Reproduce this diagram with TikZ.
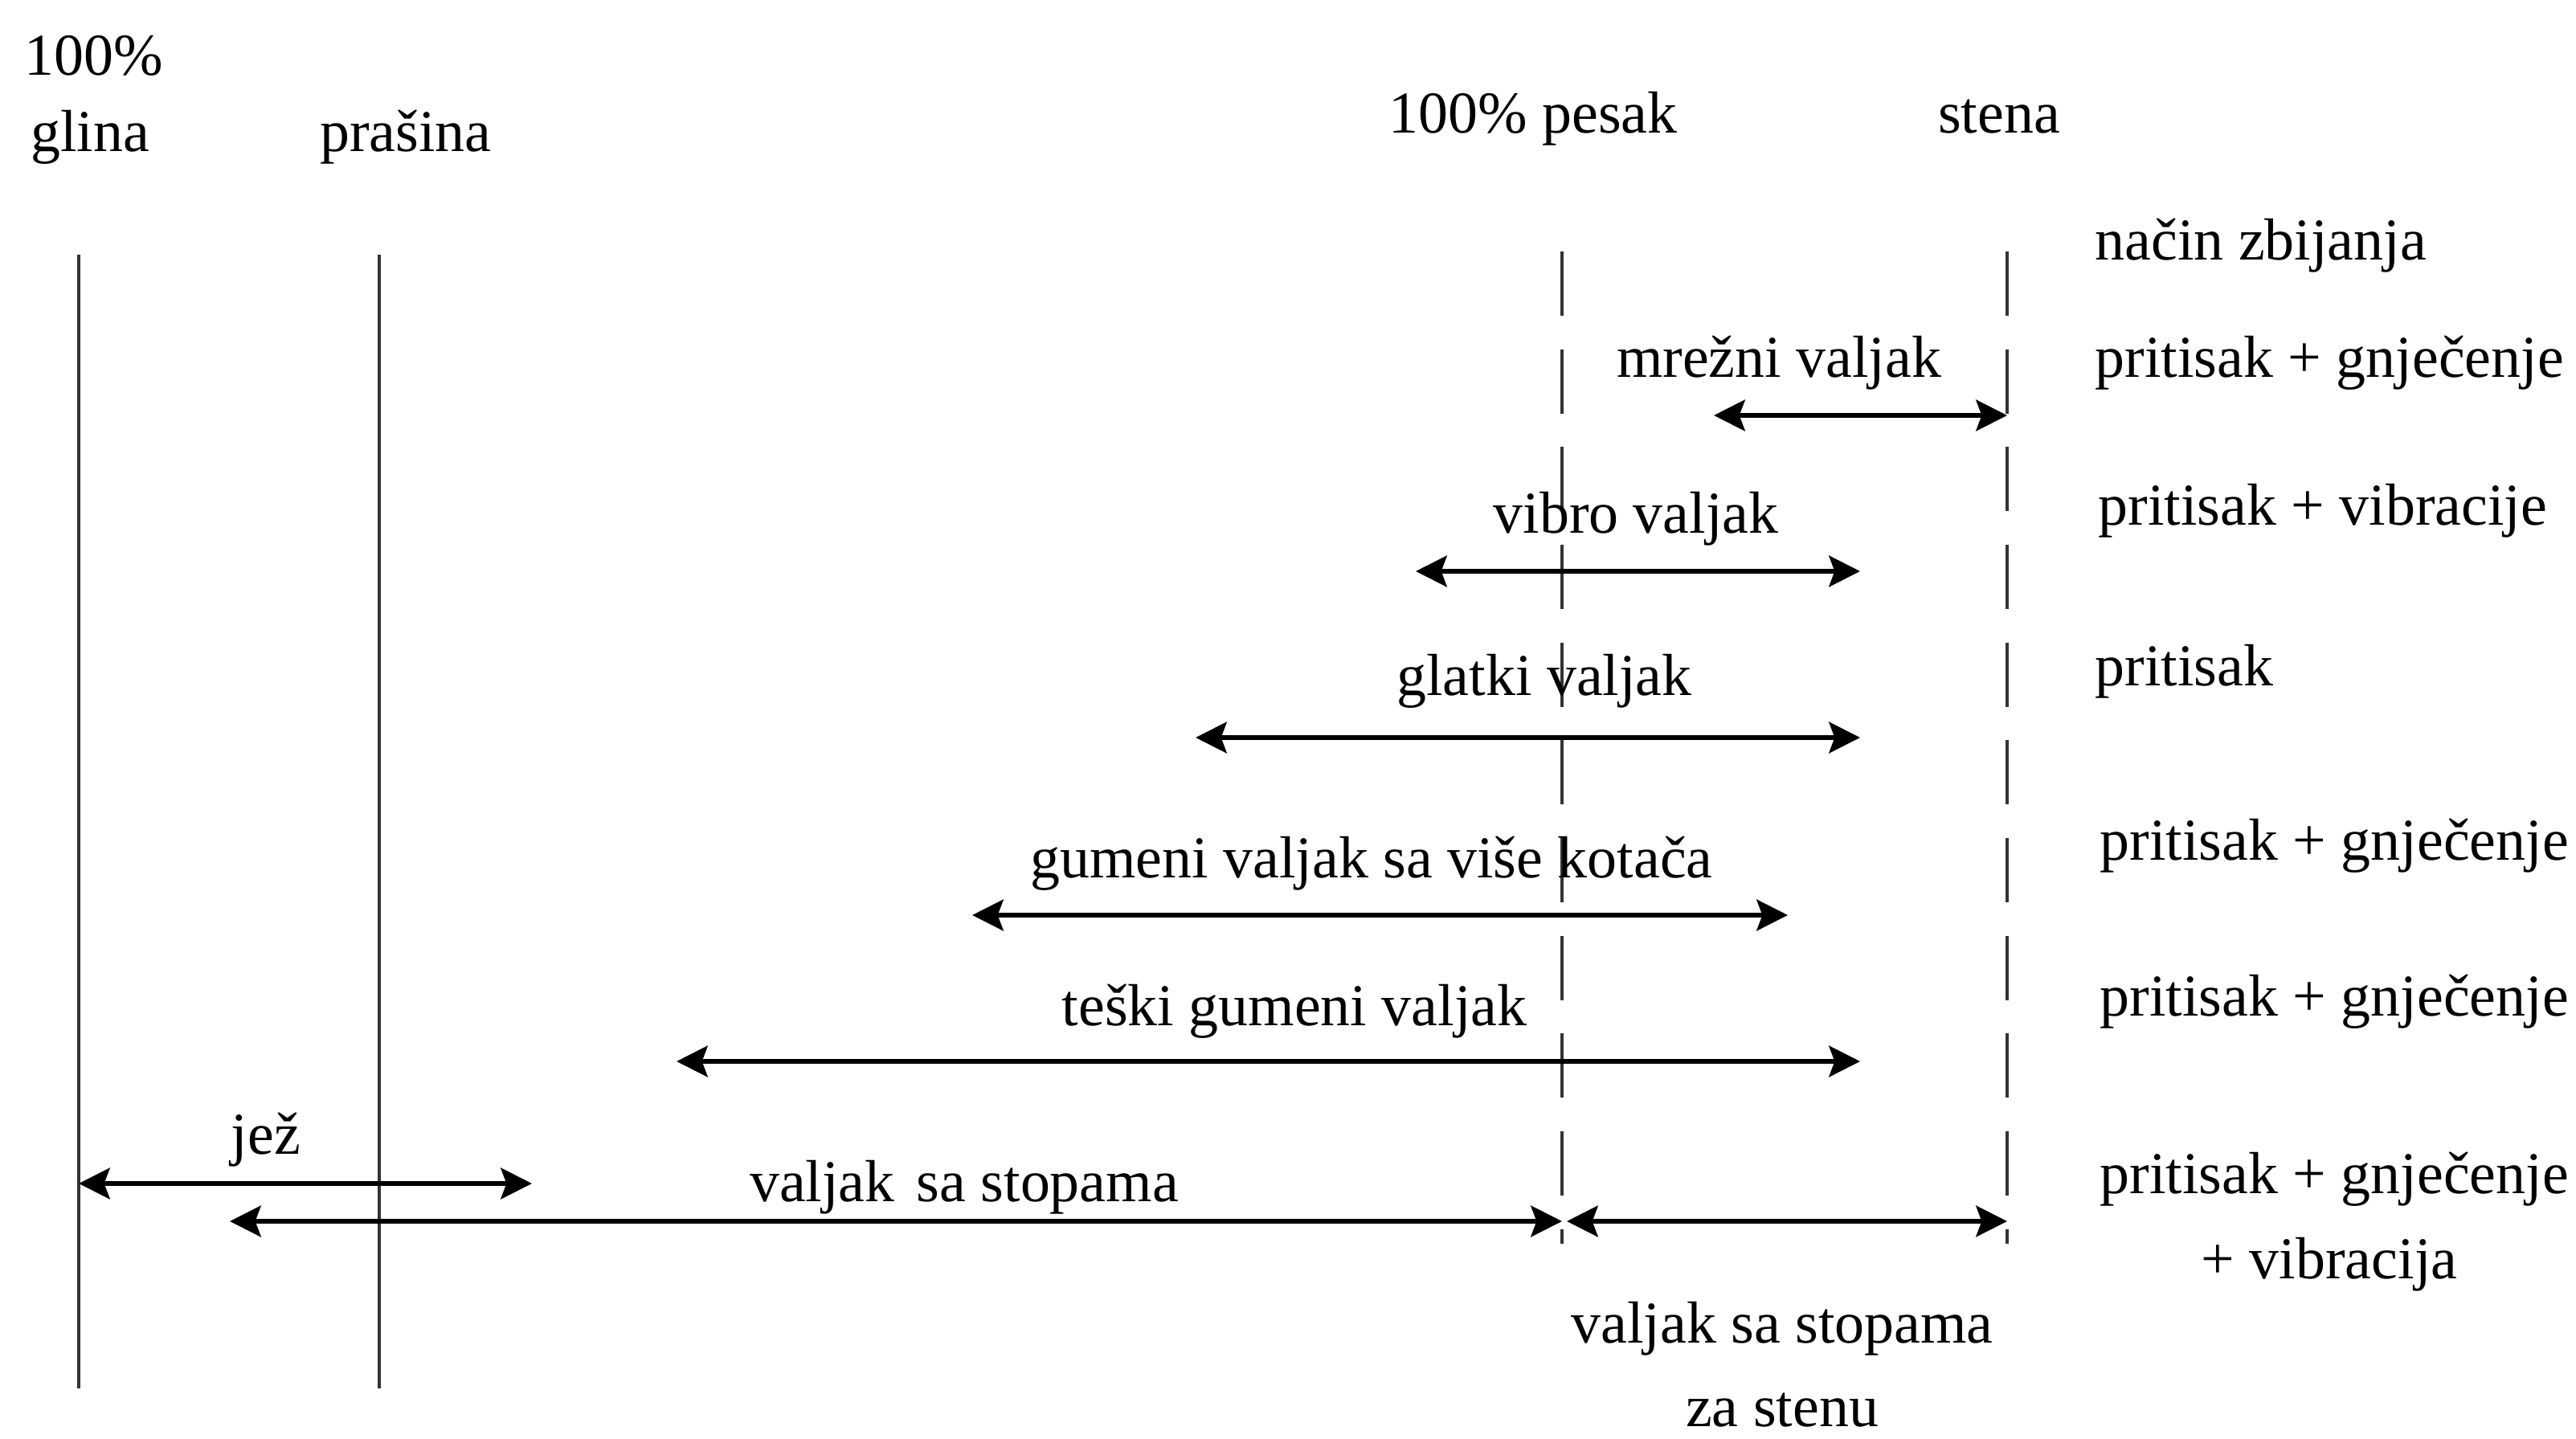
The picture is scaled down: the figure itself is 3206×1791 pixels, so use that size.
\documentclass[tikz,border=0pt]{standalone}
\usepackage{fontspec}
\setmainfont{Liberation Serif}
\usetikzlibrary{arrows.meta}
\begin{document}
\begin{tikzpicture}[x=0.01cm,y=-0.01cm,
  lbl/.style={anchor=base,inner sep=0pt,font=\fontsize{21}{25}\selectfont},
  lbll/.style={lbl,anchor=base west},
  solidline/.style={line width=0.9pt,black!80},
  dashline/.style={line width=0.9pt,black!80,dash pattern=on 22.7pt off 11.9pt},
  tip/.tip={Stealth[length=11pt,width=11pt,inset=2pt]},
  dblarrow/.style={line width=1.6pt,tip-tip}]
\fill[white] (0,0) rectangle (3206,1791);
\useasboundingbox (0,0) rectangle (3206,1791);

% column headers
\node[lbl] (p100) at (117,94) {100\%};
\node[lbl] (glina) at (112,189) {glina};
\node[lbl] (prasina) at (505,189) {prašina};
\node[lbl] (pesak) at (1908,166) {100\% pesak};
\node[lbl] (stena) at (2488,166) {stena};

% vertical boundaries
\coordinate (gT) at (98,317);   \coordinate (gB) at (98,1728);
\coordinate (prT) at (472,317); \coordinate (prB) at (472,1728);
\coordinate (peT) at (1944,313); \coordinate (peB) at (1944,1548);
\coordinate (sT) at (2498,313); \coordinate (sB) at (2498,1548);
\draw[solidline] (gT) -- (gB);
\draw[solidline] (prT) -- (prB);
\draw[dashline] (peT) -- (peB);
\draw[dashline] (sT) -- (sB);

% right column
\node[lbll] (nacin) at (2607,323) {način zbijanja};
\node[lbll] (r1) at (2607,469) {pritisak + gnječenje};
\node[lbll] (r2) at (2611,653) {pritisak + vibracije};
\node[lbll] (r3) at (2607,853) {pritisak};
\node[lbll] (r4) at (2613,1070) {pritisak + gnječenje};
\node[lbll] (r5) at (2613,1264) {pritisak + gnječenje};
\node[lbll] (r6) at (2613,1485) {pritisak + gnječenje};
\node[lbl] (r6b) at (2899,1591) {+ vibracija};

% arrows
\coordinate (mA) at (2133,517); \coordinate (mB) at (2498,517);
\coordinate (vA) at (1762,711); \coordinate (vB) at (2315,711);
\coordinate (gA) at (1488,918); \coordinate (gBb) at (2315,918);
\coordinate (guA) at (1210,1139); \coordinate (guB) at (2225,1139);
\coordinate (tA) at (842,1321); \coordinate (tB) at (2315,1321);
\coordinate (jA) at (98,1473); \coordinate (jB) at (662,1473);
\coordinate (stA) at (286,1520); \coordinate (stB) at (1944,1520);
\coordinate (swA) at (1950,1520); \coordinate (swB) at (2498,1520);

\draw[dblarrow] (mA) -- (mB);
\draw[dblarrow] (vA) -- (vB);
\draw[dblarrow] (gA) -- (gBb);
\draw[dblarrow] (guA) -- (guB);
\draw[dblarrow] (tA) -- (tB);
\draw[dblarrow] (jA) -- (jB);
\draw[dblarrow] (stA) -- (stB);
\draw[dblarrow] (swA) -- (swB);

% arrow labels
\node[lbl] (lm) at (2214,469) {mrežni valjak};
\node[lbl] (lv) at (2036,663) {vibro valjak};
\node[lbl] (lg) at (1922,865) {glatki valjak};
\node[lbl] (lgu) at (1707,1092) {gumeni valjak sa više kotača};
\node[lbl] (lt) at (1611,1276) {teški gumeni valjak};
\node[lbl] (lj) at (331,1436) {jež};
\node[lbl] (ls) at (1200,1495) {valjak\hspace{0.12em} sa stopama};
\node[lbl] (lsw1) at (2218,1671) {valjak sa stopama};
\node[lbl] (lsw2) at (2218,1775) {za stenu};
\end{tikzpicture}
\end{document}
